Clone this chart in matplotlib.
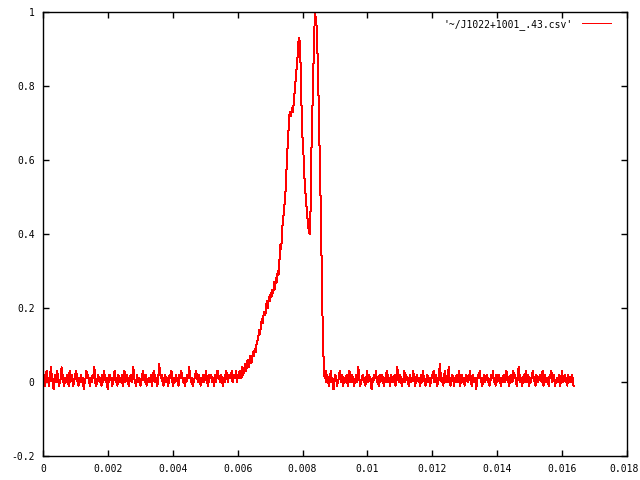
import matplotlib
matplotlib.use("Agg")
import matplotlib.pyplot as plt
import matplotlib.transforms as mtransforms
import numpy as np

# time step between profile bins (s)
dt = 2.73e-5

# profile values in percent of the peak
# off-pulse baseline before the pulse
pre_pulse = [
    0, 2, -1, 1, 3, 0, 1, -1, 2, 4, 1, 0, -2, 1, 2, 0, 3, 1, -1, 0,
    1, 4, 2, 0, -1, 1, 0, 2, 1, -1, 3, 0, 1, 2, -1, 0, 1, 3, 2, 0,
    -1, 1, 0, 2, 0, 1, -2, 0, 1, 3, 1, 2, 0, -1, 1, 0, 2, 1, 4, 0,
    -1, 0, 2, 1, 0, 1, -1, 2, 0, 3, 1, 0, 1, -2, 0, 2, 1, 1, -1, 0,
    2, 3, 0, 1, -1, 2, 1, 0, 0, 2, -1, 1, 3, 0, 1, 2, 0, -1, 1, 2,
    0, 1, 4, 1, 0, -1, 2, 0, 1, 1, -1, 0, 2, 3, 1, 0, 2, -1, 0, 1,
    1, 0, 2, -1, 1, 3, 2, 0, 1, -1, 0, 5, 3, 1, 2, 0, -1, 1, 2, 0,
    1, -1, 0, 2, 1, 3, 0, -1, 1, 0, 2, 1, 0, -1, 2, 1, 3, 2, 0, 1,
    -1, 1, 0, 2, 1, 4, 2, 0, 1, -1, 0, 1, 2, 3, 1, 0, 2, 1, -1, 0,
    1, 2, 0, 1, 3, 1, -1, 0, 2, 1, 2, 0, 1, -1, 2, 0, 1, 3, 2, 1,
    0, 2, 1, -1, 1, 0, 2, 3, 1, 0, 2, 1, 1, 3, 0, 2, 1,
]

# the pulse (two components)
pulse = [
    1, 3, 0, 2, 1, 3, 2, 1, 4, 2,
    3, 5, 3, 4, 6, 4, 5, 7, 5, 6,
    8, 7, 9, 8, 10, 11, 12, 14, 13, 15,
    17, 16, 18, 19, 18, 21, 22, 20, 23, 22,
    24, 23, 25, 24, 27, 25, 28, 27, 30, 29,
    33, 37, 36, 41, 44, 46, 49, 52, 58, 63,
    67, 72, 73, 72, 74, 73, 75, 78, 81, 84,
    86, 91, 93, 92, 84, 73, 66, 62, 56, 52,
    49, 46, 43, 41, 40, 46, 62, 72, 83, 92,
    100, 98, 96, 88, 78, 66, 55, 42, 24, 13,
    4, 1, 3, 0,
]

# off-pulse baseline after the pulse
post_pulse = [
    2, 0, -1, 1, 3, 0, 1, -2, 0, 2, 1, -1, 0, 1, 3, 1, 0, 2, -1, 1,
    0, 1, 2, -1, 0, 3, 1, 0, 2, 1, -1, 0, 1, 2, 0, 4, 1, -1, 0, 1,
    2, 0, 1, -1, 1, 3, 0, 2, 1, 0, -2, 1, 0, 2, 1, 3, 0, 1, -1, 2,
    0, 1, 2, 0, -1, 1, 0, 3, 2, 0, 1, -1, 2, 1, 0, 1, 2, -1, 0, 4,
    1, 0, 2, 1, -1, 0, 1, 3, 0, 2, 1, 0, -1, 2, 1, 0, 1, 3, 1, -1,
    0, 2, 1, 0, 1, -1, 2, 0, 3, 1, 0, -1, 1, 2, 0, 1, -1, 0, 2, 1,
    3, 0, 1, 2, -1, 0, 1, 5, 2, 0, 1, -1, 2, 3, 0, 1, 0, 4, 1, -1,
    0, 2, 1, -1, 1, 0, 2, 1, 0, 3, -1, 1, 2, 0, 1, -1, 0, 2, 1, 0,
    1, 3, 0, -1, 2, 1, 0, 1, -2, 0, 2, 1, 3, 1, 0, -1, 1, 2, 0, 1,
    2, 0, 1, -1, 0, 2, 1, 3, 0, 1, -1, 2, 0, 1, 2, 0, -1, 1, 0, 2,
    1, 0, 3, 2, 1, -1, 0, 2, 1, 0, 3, 1, 2, 0, -1, 1, 4, 2, 0, 1,
    -1, 1, 2, 0, 3, 1, 0, 2, -1, 1, 0, 2, 3, 1, 0, -1, 2, 1, 0, 1,
    2, 1, 0, 3, -1, 1, 2, 0, 1, 0, -1, 2, 1, 3, 0, 1, 2, -1, 0, 1,
    1, 0, 2, -1, 1, 3, 0, 1, 2, 0, 1, -1, 2, 0, 1, 0, 2, 1, -1,
]

x_ticks = [0, 0.002, 0.004, 0.006, 0.008, 0.01, 0.012, 0.014, 0.016, 0.018]
x_labels = ["0", "0.002", "0.004", "0.006", "0.008", "0.01", "0.012", "0.014", "0.016", "0.018"]
y_ticks = [-0.2, 0, 0.2, 0.4, 0.6, 0.8, 1]
y_labels = ["-0.2", "0", "0.2", "0.4", "0.6", "0.8", "1"]

label = "'~/J1022+1001_.43.csv'"

profile = np.array(pre_pulse + pulse + post_pulse) / 100.0
t = np.arange(len(profile)) * dt

fig = plt.figure(figsize=(6.4, 4.8), dpi=100)
ax = fig.add_axes([43 / 640, 1 - 456 / 480, 584 / 640, 444 / 480])

ax.plot(t, profile, color="#ff0000", linewidth=0.72, antialiased=False, label=label)

ax.set_xlim(0, 0.018)
ax.set_ylim(-0.2, 1)
ax.set_xticks(x_ticks)
ax.set_xticklabels(x_labels)
ax.set_yticks(y_ticks)
ax.set_yticklabels(y_labels)

mono = {"family": "DejaVu Sans Mono", "size": 7}
ax.tick_params(direction="in", length=4, width=1, top=True, right=True, pad=6)
for lab in ax.get_xticklabels() + ax.get_yticklabels():
    lab.set_fontfamily(mono["family"])
    lab.set_fontsize(mono["size"])
for s in ax.spines.values():
    s.set_linewidth(1)

# nudge the last x label so it stays inside the figure
last = ax.get_xticklabels()[-1]
last.set_transform(last.get_transform() + mtransforms.ScaledTranslation(-3 / 100, 0, fig.dpi_scale_trans))

leg = ax.legend(loc="upper right", bbox_to_anchor=(0.985, 1.0), frameon=False,
                markerfirst=False, prop=mono, handlelength=3.0, handletextpad=1.0,
                borderaxespad=0.3)
for h in leg.get_lines():
    h.set_antialiased(False)

fig.savefig("out.png", dpi=100)
